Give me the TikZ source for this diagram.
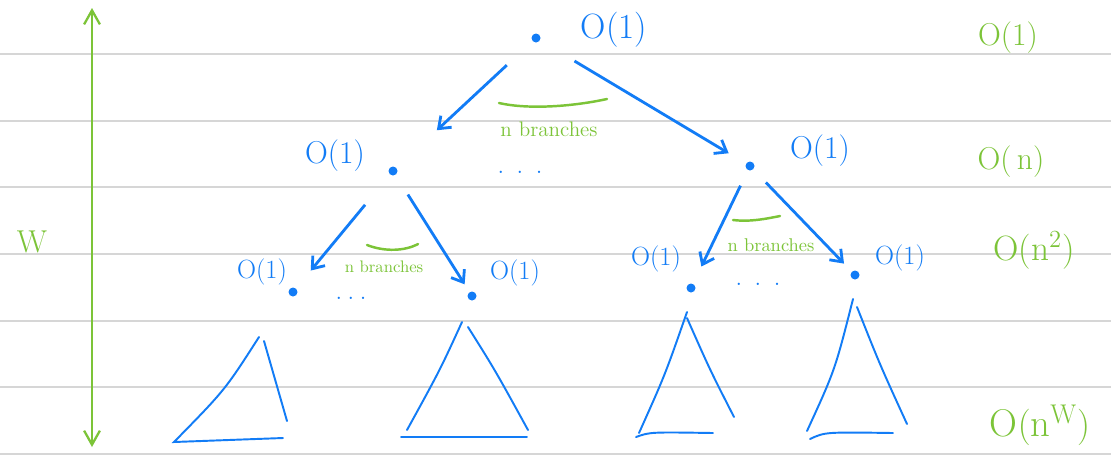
\documentclass[tikz,border=0pt]{standalone}
\usetikzlibrary{arrows.meta}
\definecolor{inkBlue}{RGB}{18,124,246}
\definecolor{inkGreen}{RGB}{124,196,56}
\definecolor{ruleGray}{RGB}{214,214,214}

\begin{document}
\begin{tikzpicture}[
    x=0.02cm, y=-0.02cm,
    vertex/.style={circle, fill=inkBlue, inner sep=0pt, minimum size=0.18cm},
    cost/.style={text=inkBlue, inner sep=0pt, font=\fontsize{18}{20}\selectfont},
    smallcost/.style={cost, font=\fontsize{15}{17}\selectfont},
    total/.style={text=inkGreen, inner sep=0pt, font=\fontsize{18}{20}\selectfont},
    branch/.style={text=inkGreen, inner sep=0pt, font=\fontsize{12}{14}\selectfont},
    gap/.style={text=inkBlue, inner sep=0pt, font=\fontsize{16}{16}\selectfont},
    link/.style={-{Straight Barb[length=6pt, width=9pt]}, draw=inkBlue, line width=1.6pt},
    brace/.style={draw=inkGreen, line width=1.4pt, line cap=round},
    subtree/.style={draw=inkBlue, line width=1.1pt, line cap=round},
    ruling/.style={draw=ruleGray, line width=0.9pt},
    measure/.style={{Straight Barb[length=8pt, width=9pt]}-{Straight Barb[length=8pt, width=9pt]}, draw=inkGreen, line width=1.3pt}
]
    \fill[white] (0,0) rectangle (1111,461);
    \useasboundingbox (0,0) rectangle (1111,461);

    % ruled paper
    \foreach \y in {54,121,187,254,321,387,454}
        \draw[ruling] (0,\y) -- (1111,\y);

    % depth marker
    \coordinate (wtop) at (92,8);
    \coordinate (wbot) at (92,447);
    \draw[measure] (wtop) -- (wbot);
    \node[total] (depth) at (32,242) {W};

    % tree nodes
    \node[vertex] (root) at (536,38) {};
    \node[vertex] (left) at (393,171) {};
    \node[vertex] (right) at (750,166) {};
    \node[vertex] (leftleft) at (293,292) {};
    \node[vertex] (leftright) at (472,296) {};
    \node[vertex] (rightleft) at (691,288) {};
    \node[vertex] (rightright) at (855,275) {};

    \node[cost, font=\fontsize{20}{22}\selectfont] (rootcost) at (614,30) {O(1)};
    \node[cost] (leftcost) at (335,156) {O(1)};
    \node[cost] (rightcost) at (820,151) {O(1)};
    \node[smallcost] (leftleftcost) at (262,272) {O(1)};
    \node[smallcost] (leftrightcost) at (515,273) {O(1)};
    \node[smallcost] (rightleftcost) at (656,259) {O(1)};
    \node[smallcost] (rightrightcost) at (900,258) {O(1)};

    \node[gap] (gapone) at (520,172) {.\hspace{0.24cm}.\hspace{0.24cm}.};
    \node[gap] (gaptwo) at (351,298) {.\hspace{0.1cm}.\hspace{0.1cm}.};
    \node[gap] (gapthree) at (758,284) {.\hspace{0.24cm}.\hspace{0.24cm}.};

    \draw[link, shorten <=0.7cm, shorten >=1.1cm] (root) -- (left);
    \draw[link, shorten <=0.8cm, shorten >=0.4cm] (root) -- (right);
    \draw[link, shorten <=0.78cm, shorten >=0.46cm] (left) -- (leftleft);
    \draw[link, shorten <=0.46cm, shorten >=0.18cm] (left) -- (leftright);
    \draw[link, shorten <=0.34cm, shorten >=0.38cm] (right) -- (rightleft);
    \draw[link, shorten <=0.36cm, shorten >=0.22cm] (right) -- (rightright);

    % branching factor
    \draw[brace] (499,103) .. controls (530,110) and (575,106) .. (607,99);
    \node[branch] (branchone) at (549,129) {n branches};
    \draw[brace] (367,245) .. controls (385,252) and (405,251) .. (418,244);
    \node[branch, font=\fontsize{9.5}{11}\selectfont] (branchtwo) at (384,267) {n branches};
    \draw[brace] (733,220) .. controls (750,222) and (765,219) .. (780,216);
    \node[branch, font=\fontsize{10.5}{12}\selectfont] (branchthree) at (771,245) {n branches};

    % subtrees
    \draw[subtree] (259,337) .. controls (225,390) .. (174,442) -- (283,438);
    \draw[subtree] (264,341) -- (287,421);
    \draw[subtree] (462,322) .. controls (440,370) .. (407,430);
    \draw[subtree] (468,327) .. controls (495,370) .. (528,430);
    \draw[subtree] (401,437) -- (527,437);
    \draw[subtree] (687,312) .. controls (665,375) .. (639,433);
    \draw[subtree] (687,318) .. controls (710,370) .. (734,417);
    \draw[subtree] (636,437) .. controls (650,432) .. (713,433);
    \draw[subtree] (853,299) .. controls (835,370) .. (807,431);
    \draw[subtree] (857,307) .. controls (880,365) .. (907,424);
    \draw[subtree] (810,439) .. controls (825,432) .. (893,433);

    % work per level
    \node[total] (levelone) at (1008,38) {O(1)};
    \node[total] (leveltwo) at (1011,162) {O(\,n)};
    \node[total, font=\fontsize{20}{22}\selectfont] (levelthree) at (1034,250) {O(n\textsuperscript{2})};
    \node[total, font=\fontsize{22}{24}\selectfont] (levelfour) at (1040,425) {O$\bigl($n\textsuperscript{W}$\bigr)$};
\end{tikzpicture}
\end{document}
